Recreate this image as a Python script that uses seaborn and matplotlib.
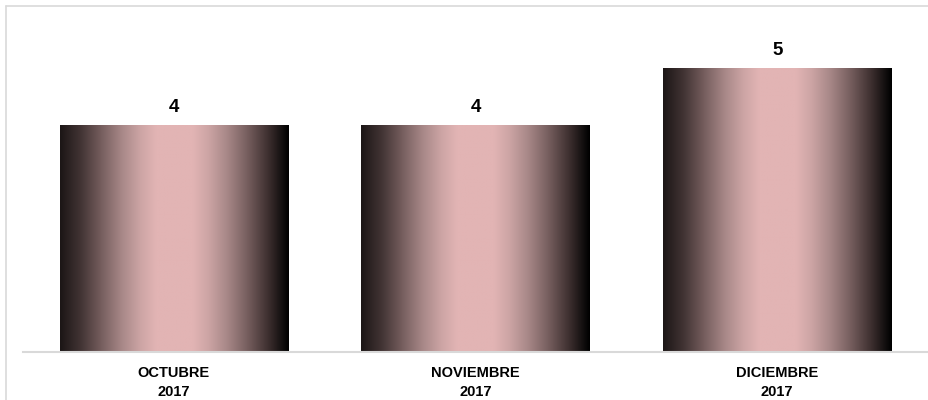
import numpy as np
import pandas as pd
import matplotlib
matplotlib.use("Agg")
import matplotlib.pyplot as plt
from matplotlib.colors import LinearSegmentedColormap
import seaborn as sns

months = ["OCTUBRE", "NOVIEMBRE", "DICIEMBRE"]
years = ["2017", "2017", "2017"]
values = [4, 4, 5]

categories = [f"{m}\n{y}" for m, y in zip(months, years)]
df = pd.DataFrame({"periodo": categories, "valor": values})

sns.set_theme(style="white")
plt.rcParams['font.family'] = ['Liberation Sans Narrow', 'Liberation Sans', 'DejaVu Sans']

fig = plt.figure(figsize=(9.29, 4.0), dpi=100)
ax = fig.add_axes([23/929, 48/400, 905/929, 340/400])

sns.barplot(data=df, x="periodo", y="valor", ax=ax, width=0.756,
            color="#e3b5b5", edgecolor="none", saturation=1)

cmap = LinearSegmentedColormap.from_list(
    "grad",
    [(0.0, "#1c1616"), (0.09, "#423434"), (0.18, "#765e5e"), (0.27, "#a88888"),
     (0.35, "#cca4a4"), (0.42, "#e2b4b4"), (0.58, "#e2b4b4"), (0.65, "#cca4a4"),
     (0.73, "#a88888"), (0.82, "#765e5e"), (0.91, "#3e3030"), (0.97, "#141010"),
     (1.0, "#000000")])
grad = np.linspace(0, 1, 512).reshape(1, -1)
for patch in ax.patches:
    x0, y0 = patch.get_x(), patch.get_y()
    w, h = patch.get_width(), patch.get_height()
    patch.set_alpha(0)
    ax.imshow(grad, cmap=cmap, aspect="auto", extent=[x0, x0 + w, y0, y0 + h],
              zorder=2, interpolation="bilinear")
    ax.text(x0 + w / 2, y0 + h + 0.32, f"{h:g}", ha="center", va="center",
            fontsize=13.5, fontweight="bold", color="#000000")

ax.set_xlim(-0.5, len(values) - 0.5)
ax.set_ylim(0, 6)
ax.set_xlabel("")
ax.set_ylabel("")
ax.set_yticks([])
ax.tick_params(axis="x", length=0, pad=10)
for lbl in ax.get_xticklabels():
    lbl.set_fontweight("bold")
    lbl.set_fontsize(10.5)
    lbl.set_color("#000000")
    lbl.set_linespacing(1.45)
for s in ["top", "right", "left"]:
    ax.spines[s].set_visible(False)
ax.spines["bottom"].set_color("#d9d9d9")
ax.spines["bottom"].set_linewidth(1.5)
ax.set_facecolor("none")

# outer chart frame (left and top visible)
fig.add_artist(plt.Line2D([6.5/929, 6.5/929], [0, 1 - 5.5/400], color="#d9d9d9", lw=1.2, transform=fig.transFigure))
fig.add_artist(plt.Line2D([6.5/929, 1], [1 - 5.5/400, 1 - 5.5/400], color="#d9d9d9", lw=1.2, transform=fig.transFigure))

fig.savefig("out.png", dpi=100)
